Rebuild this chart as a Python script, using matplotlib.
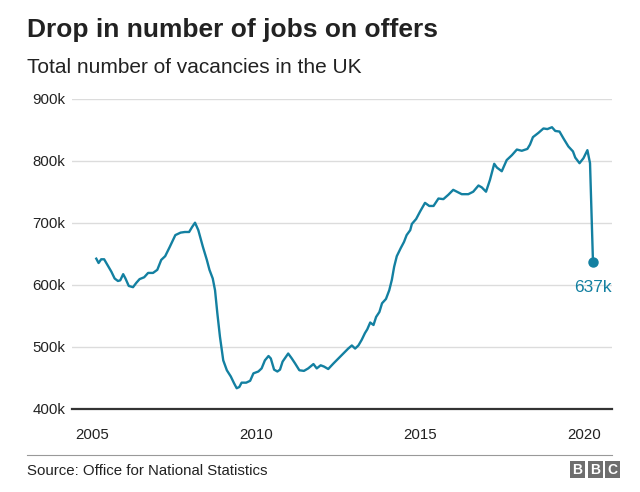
import matplotlib
matplotlib.use("Agg")
import matplotlib.pyplot as plt
from matplotlib.patches import Rectangle
from matplotlib.lines import Line2D

plt.rcParams['font.family'] = ['Liberation Sans', 'DejaVu Sans']

# vacancies (decimal year, thousands)
years = [2005.13, 2005.20, 2005.28, 2005.37, 2005.47, 2005.59, 2005.69, 2005.79, 2005.86, 2005.95,
         2006.02, 2006.12, 2006.25, 2006.35, 2006.45, 2006.59, 2006.71, 2006.86, 2006.99,
         2007.11, 2007.23, 2007.37, 2007.54, 2007.70, 2007.83, 2007.96,
         2008.05, 2008.14, 2008.24, 2008.38, 2008.50, 2008.58, 2008.68, 2008.75, 2008.82, 2008.90,
         2009.00, 2009.11, 2009.23, 2009.33, 2009.41, 2009.49, 2009.56, 2009.70, 2009.82, 2009.92,
         2010.07, 2010.17, 2010.27, 2010.38, 2010.45, 2010.55, 2010.65, 2010.73, 2010.81, 2010.98,
         2011.09, 2011.19, 2011.32, 2011.46, 2011.59, 2011.75, 2011.85, 2011.97,
         2012.07, 2012.20, 2012.36, 2012.51, 2012.66, 2012.81, 2012.92,
         2013.02, 2013.12, 2013.22, 2013.32, 2013.39, 2013.48, 2013.58, 2013.66, 2013.76, 2013.84, 2013.96,
         2014.06, 2014.14, 2014.21, 2014.29, 2014.41, 2014.51, 2014.59, 2014.70, 2014.75, 2014.88,
         2015.00, 2015.15, 2015.28, 2015.41, 2015.56, 2015.71, 2015.86,
         2016.01, 2016.12, 2016.27, 2016.47, 2016.62, 2016.78, 2016.88,
         2017.01, 2017.13, 2017.26, 2017.34, 2017.49, 2017.64, 2017.80, 2017.95,
         2018.10, 2018.27, 2018.35, 2018.44, 2018.61, 2018.76, 2018.88,
         2019.02, 2019.12, 2019.25, 2019.37, 2019.52, 2019.66, 2019.73, 2019.86, 2019.98,
         2020.10, 2020.18, 2020.27]
vacancies = [642, 635, 641, 641, 632, 621, 610, 606, 607, 617,
             610, 598, 596, 603, 609, 612, 619, 619, 624,
             640, 646, 661, 680, 684, 685, 685,
             693, 700, 688, 661, 640, 624, 610, 591, 554, 516,
             478, 462, 452, 441, 433, 435, 442, 442, 445, 457,
             460, 465, 478, 485, 481, 463, 460, 463, 476, 489,
             481, 473, 462, 461, 465, 472, 465, 470,
             468, 464, 473, 481, 489, 497, 502,
             497, 502, 511, 522, 528, 539, 535, 548, 556, 570, 577,
             591, 608, 629, 646, 659, 669, 680, 688, 698, 706,
             718, 732, 727, 727, 739, 738, 745,
             753, 750, 746, 746, 750, 760, 757,
             750, 769, 795, 789, 783, 801, 809, 818,
             816, 819, 826, 838, 845, 852, 851,
             854, 848, 847, 836, 823, 815, 805, 796, 804,
             817, 796, 637]

y_ticks = [400, 500, 600, 700, 800, 900]
y_labels = ['400k', '500k', '600k', '700k', '800k', '900k']
x_ticks = [2005, 2010, 2015, 2020]
x_labels = ['2005', '2010', '2015', '2020']
last_label = '637k'

W, H = 640, 492
teal = '#1380a1'
dark = '#222222'

fig = plt.figure(figsize=(W / 100, H / 100), dpi=100)
ax = fig.add_axes([72 / W, 1 - 408.7 / H, 540 / W, 310 / H])

ax.plot(years, vacancies, color=teal, lw=1.7, solid_joinstyle='round', clip_on=False, zorder=3)
ax.plot(years[-1], vacancies[-1], 'o', color=teal, ms=6.5, clip_on=False, zorder=4)
ax.annotate(last_label, (years[-1], vacancies[-1]), xytext=(0, -13), textcoords='offset points',
            ha='center', va='top', color=teal, fontsize=12.5)

ax.set_xlim(2004.39, 2020.85)
ax.set_ylim(400, 900)
ax.set_yticks(y_ticks)
ax.set_yticklabels(y_labels)
ax.set_xticks(x_ticks)
ax.set_xticklabels(x_labels)
ax.tick_params(length=0, labelsize=10.8, colors=dark)
ax.tick_params(axis='y', pad=5)
ax.tick_params(axis='x', pad=14)
ax.grid(axis='y', color='#dcdcdc', lw=1)
ax.set_axisbelow(True)
for s in ['top', 'right', 'left']:
    ax.spines[s].set_visible(False)
ax.spines['bottom'].set_color('#333333')
ax.spines['bottom'].set_linewidth(1.6)
ax.spines['bottom'].set_zorder(5)

fig.text(27 / W, 1 - 37 / H, 'Drop in number of jobs on offers', fontsize=19, fontweight='bold',
         color=dark, ha='left', va='baseline')
fig.text(27 / W, 1 - 73 / H, 'Total number of vacancies in the UK', fontsize=15,
         color=dark, ha='left', va='baseline')

# footer
fig.add_artist(Line2D([27 / W, 612 / W], [1 - 455 / H, 1 - 455 / H], color='#999999', lw=0.8))
fig.text(27 / W, 1 - 475 / H, 'Source: Office for National Statistics', fontsize=10.8,
         color=dark, ha='left', va='baseline')
for i, ch in enumerate('BBC'):
    x0 = 570 + i * 17.5
    fig.add_artist(Rectangle((x0 / W, 1 - 478 / H), 15 / W, 17 / H, color='#6e6e6e', lw=0))
    fig.text((x0 + 7.5) / W, 1 - 469.5 / H, ch, fontsize=10, fontweight='bold', color='white',
             ha='center', va='center')

fig.savefig('out.png', dpi=100, facecolor='white')
